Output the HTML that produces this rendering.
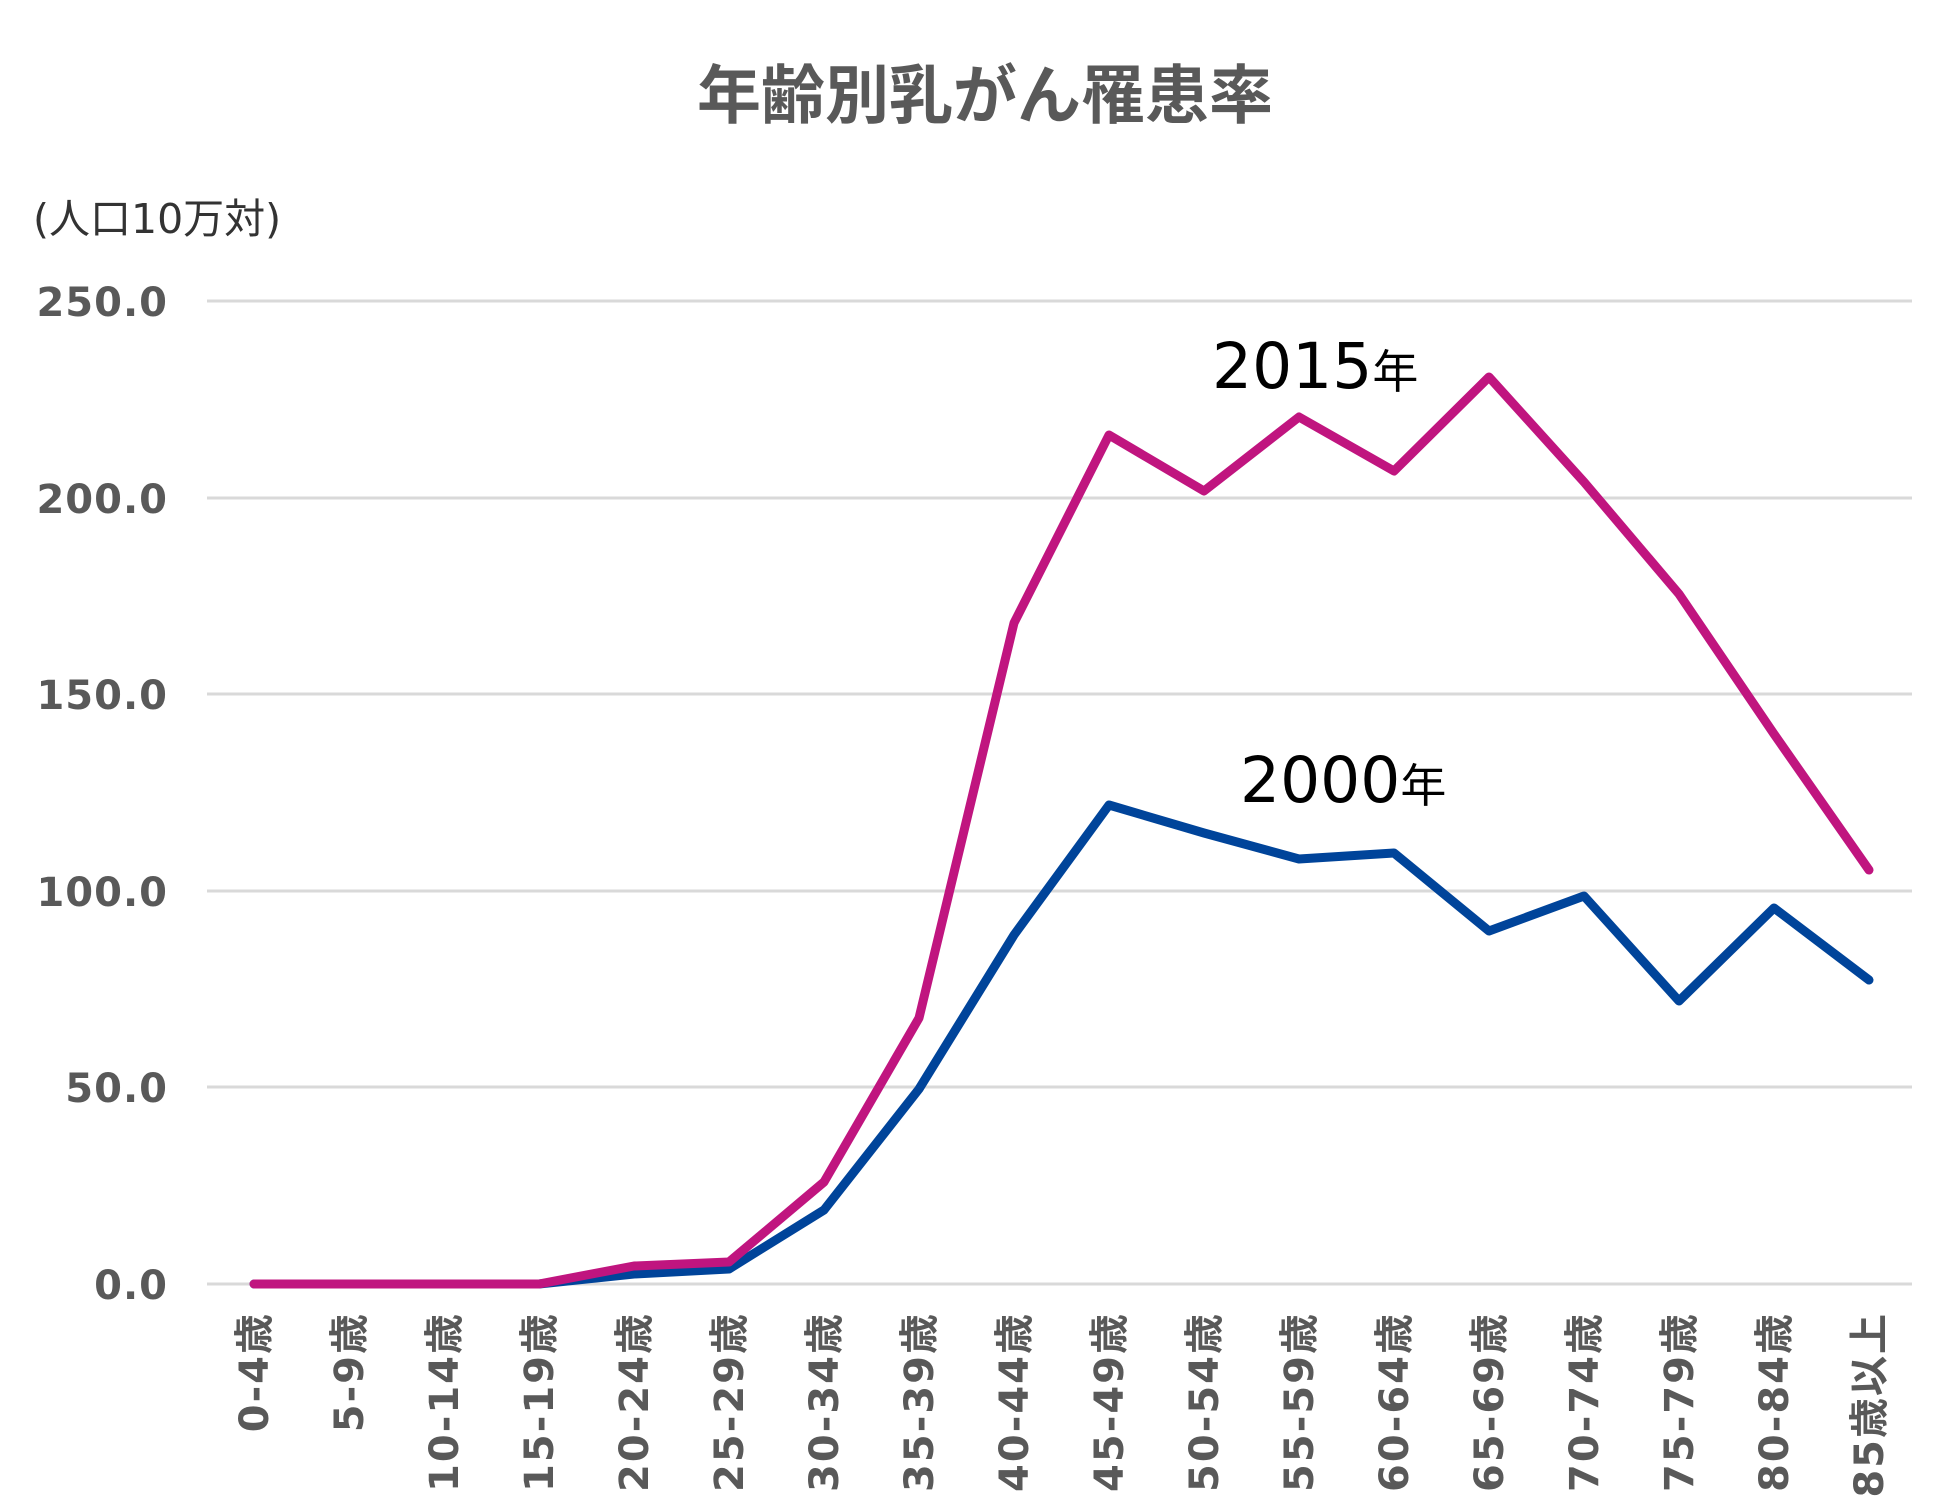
<!DOCTYPE html>
<html><head><meta charset="utf-8"><style>
html,body{margin:0;padding:0;background:#fff;width:1957px;height:1507px;overflow:hidden}
</style></head><body>
<svg width="1957" height="1507" xmlns="http://www.w3.org/2000/svg" font-family="'DejaVu Sans','Liberation Sans','Noto Sans CJK JP',sans-serif">
<text x="985" y="118" text-anchor="middle" font-size="64" font-weight="bold" fill="#595959" font-family="'Noto Sans CJK JP',sans-serif">年齢別乳がん罹患率</text>
<text x="33" y="233" font-size="41" fill="#333" font-family="'DejaVu Sans','Noto Sans CJK JP',sans-serif">(人口10万対)</text>
<g stroke="#d9d9d9" stroke-width="3">
<line x1="207" x2="1912" y1="301" y2="301"/>
<line x1="207" x2="1912" y1="498" y2="498"/>
<line x1="207" x2="1912" y1="694" y2="694"/>
<line x1="207" x2="1912" y1="891" y2="891"/>
<line x1="207" x2="1912" y1="1087" y2="1087"/>
<line x1="207" x2="1912" y1="1284" y2="1284"/>
</g>
<g font-size="40" font-weight="bold" fill="#595959" text-anchor="end" letter-spacing="1">
<text x="168" y="316">250.0</text>
<text x="168" y="513">200.0</text>
<text x="168" y="709">150.0</text>
<text x="168" y="906">100.0</text>
<text x="168" y="1102">50.0</text>
<text x="168" y="1299">0.0</text>
</g>
<g font-size="40" font-weight="bold" fill="#595959" text-anchor="end" letter-spacing="2" font-family="'DejaVu Sans','Noto Sans CJK JP',sans-serif">
<text transform="translate(268,1312) rotate(-90)">0-4歳</text>
<text transform="translate(363,1312) rotate(-90)">5-9歳</text>
<text transform="translate(458,1312) rotate(-90)">10-14歳</text>
<text transform="translate(553,1312) rotate(-90)">15-19歳</text>
<text transform="translate(648,1312) rotate(-90)">20-24歳</text>
<text transform="translate(743,1312) rotate(-90)">25-29歳</text>
<text transform="translate(838,1312) rotate(-90)">30-34歳</text>
<text transform="translate(933,1312) rotate(-90)">35-39歳</text>
<text transform="translate(1028,1312) rotate(-90)">40-44歳</text>
<text transform="translate(1123,1312) rotate(-90)">45-49歳</text>
<text transform="translate(1218,1312) rotate(-90)">50-54歳</text>
<text transform="translate(1313,1312) rotate(-90)">55-59歳</text>
<text transform="translate(1408,1312) rotate(-90)">60-64歳</text>
<text transform="translate(1503,1312) rotate(-90)">65-69歳</text>
<text transform="translate(1598,1312) rotate(-90)">70-74歳</text>
<text transform="translate(1693,1312) rotate(-90)">75-79歳</text>
<text transform="translate(1788,1312) rotate(-90)">80-84歳</text>
<text transform="translate(1883,1312) rotate(-90)">85歳以上</text>
</g>
<polyline fill="none" stroke="#00449A" stroke-width="9" stroke-linejoin="round" stroke-linecap="round"
points="254,1284 349,1284 444,1284 539,1284 634,1274 729,1269 824,1210 919,1089 1014,935 1109,805 1204,833 1299,859 1394,853 1489,931 1584,896 1679,1001 1774,908 1869,980"/>
<polyline fill="none" stroke="#C0157F" stroke-width="9" stroke-linejoin="round" stroke-linecap="round"
points="254,1284 349,1284 444,1284 539,1284 634,1266 729,1262 824,1182 919,1018 1014,623 1109,435 1204,491 1299,417 1394,471 1489,377 1584,482 1679,594 1774,734 1869,870"/>
<text x="1212" y="388" font-size="63" fill="#000">2015<tspan font-size="46" font-family="'Noto Sans CJK JP',sans-serif">年</tspan></text>
<text x="1240" y="802" font-size="63" fill="#000">2000<tspan font-size="46" font-family="'Noto Sans CJK JP',sans-serif">年</tspan></text>
</svg>
</body></html>
